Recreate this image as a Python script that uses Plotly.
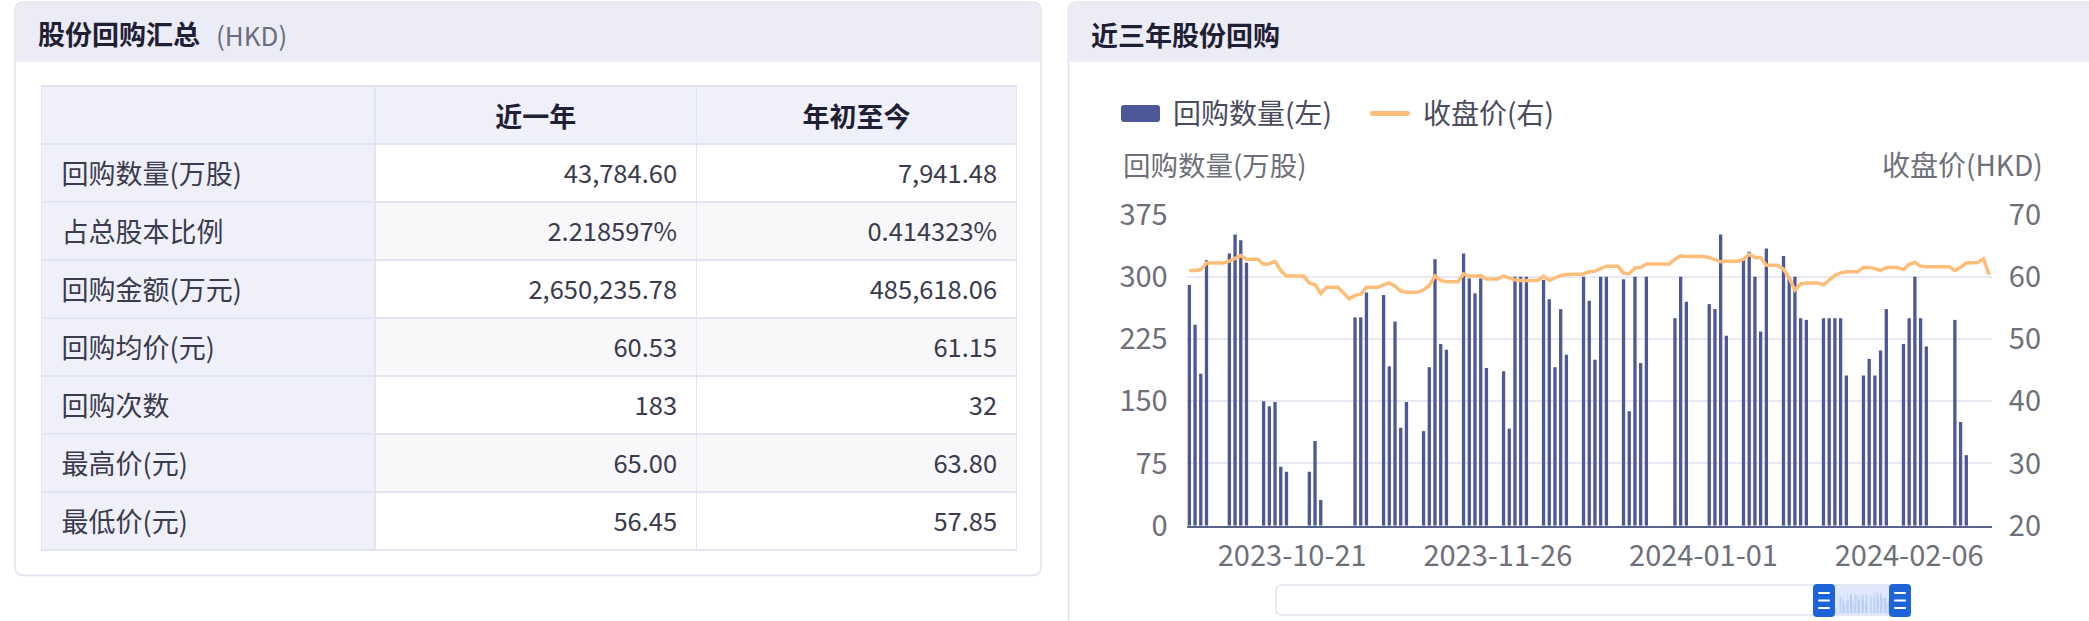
import plotly.graph_objects as go
import pandas as pd

W, H = 2089, 621
FONT = "Noto Sans CJK SC, Noto Sans, sans-serif"

# ---------------- table data ----------------
col_headers = ["", "近一年", "年初至今"]
row_labels = ["回购数量(万股)", "占总股本比例", "回购金额(万元)", "回购均价(元)",
              "回购次数", "最高价(元)", "最低价(元)"]
recent_year = ["43,784.60", "2.218597%", "2,650,235.78", "60.53", "183", "65.00", "56.45"]
year_to_date = ["7,941.48", "0.414323%", "485,618.06", "61.15", "32", "63.80", "57.85"]

# ---------------- chart data ----------------
buyback_dates = [
    "2023-10-03", "2023-10-04", "2023-10-05", "2023-10-06",
    "2023-10-10", "2023-10-11", "2023-10-12", "2023-10-13",
    "2023-10-16", "2023-10-17", "2023-10-18", "2023-10-19", "2023-10-20",
    "2023-10-24", "2023-10-25", "2023-10-26",
    "2023-11-01", "2023-11-02", "2023-11-03",
    "2023-11-06", "2023-11-07", "2023-11-08", "2023-11-09", "2023-11-10",
    "2023-11-13", "2023-11-14", "2023-11-15", "2023-11-16", "2023-11-17",
    "2023-11-20", "2023-11-21", "2023-11-22", "2023-11-23", "2023-11-24",
    "2023-11-27", "2023-11-28", "2023-11-29", "2023-11-30", "2023-12-01",
    "2023-12-04", "2023-12-05", "2023-12-06", "2023-12-07", "2023-12-08",
    "2023-12-11", "2023-12-12", "2023-12-13", "2023-12-14", "2023-12-15",
    "2023-12-18", "2023-12-19", "2023-12-20", "2023-12-21", "2023-12-22",
    "2023-12-27", "2023-12-28", "2023-12-29",
    "2024-01-02", "2024-01-03", "2024-01-04", "2024-01-05",
    "2024-01-08", "2024-01-09", "2024-01-10", "2024-01-11", "2024-01-12",
    "2024-01-15", "2024-01-16", "2024-01-17", "2024-01-18", "2024-01-19",
    "2024-01-22", "2024-01-23", "2024-01-24", "2024-01-25", "2024-01-26",
    "2024-01-29", "2024-01-30", "2024-01-31", "2024-02-01", "2024-02-02",
    "2024-02-05", "2024-02-06", "2024-02-07", "2024-02-08", "2024-02-09",
    "2024-02-14", "2024-02-15", "2024-02-16",
]
buyback_qty = [
    290, 242, 183, 320,
    328, 351, 344, 317,
    150, 144, 149, 71, 65,
    65, 102, 31,
    251, 251, 281,
    278, 192, 246, 118, 149,
    114, 191, 321, 219, 212,
    328, 298, 280, 298, 190,
    186, 117, 300, 300, 300,
    296, 273, 191, 261, 206,
    300, 271, 200, 300, 300,
    297, 138, 300, 196, 300,
    250, 300, 270,
    267, 261, 351, 229,
    321, 330, 300, 234, 334,
    325, 300, 300, 250, 248,
    250, 250, 250, 250, 181,
    181, 201, 181, 211, 261,
    219, 250, 300, 250, 216,
    248, 125, 85,
]
price_start = "2023-10-03"
close_price = [
    61.0, 61.0, 61.15, 62.2, 62.2, 62.2, 62.2, 62.5, 63.0, 63.4,
    62.8, 62.8, 62.8, 62.0, 62.1, 62.45, 61.0, 60.1, 60.1, 60.1,
    60.1, 59.0, 58.7, 57.3, 58.3, 58.3, 58.3, 57.4, 56.45, 57.0,
    57.2, 58.3, 58.3, 58.3, 58.7, 59.0, 58.5, 57.7, 57.5, 57.5,
    57.5, 57.9, 58.6, 60.1, 59.4, 59.2, 59.2, 59.2, 60.45, 60.1,
    60.1, 60.2, 59.65, 59.65, 59.65, 60.1, 59.8, 59.5, 59.4, 59.4,
    59.4, 59.4, 60.1, 59.4, 59.8, 60.2, 60.35, 60.35, 60.35, 60.45,
    60.8, 60.9, 61.3, 61.7, 61.7, 61.7, 60.6, 60.5, 61.4, 61.5,
    62.05, 62.05, 62.05, 62.05, 62.05, 62.8, 63.35, 63.25, 63.25, 63.25,
    63.25, 63.1, 62.8, 62.4, 62.5, 62.5, 62.5, 62.8, 63.6, 63.1,
    63.1, 61.85, 61.85, 61.85, 61.2, 59.8, 57.85, 58.85, 59.0, 59.0,
    59.0, 58.7, 59.5, 60.2, 60.6, 60.8, 60.8, 60.8, 61.5, 61.5,
    61.3, 61.0, 61.5, 61.5, 61.5, 61.15, 62.0, 62.3, 61.7, 61.6,
    61.6, 61.6, 61.6, 61.6, 61.0, 61.5, 62.2, 62.2, 62.3, 62.9,
    60.3,
]
price_dates = pd.date_range(price_start, periods=len(close_price), freq="D")
x_tick_dates = ["2023-10-21", "2023-11-26", "2024-01-01", "2024-02-06"]
x_range = ["2023-10-02 12:00", "2024-02-20 12:00"]

BAR_COLOR = "#4d5896"
LINE_COLOR = "#ffbd7a"
AXIS_TEXT = "#6e7079"
CLEAR = "rgba(0,0,0,0)"


def px(x):
    return x / W


def py(y):
    return 1 - y / H


def rr_path(x0, y0, x1, y1, r, top_only=False):
    def p(x, y):
        return f"{px(x):.6f},{py(y):.6f}"
    s = f"M {p(x0 + r, y0)} L {p(x1 - r, y0)} Q {p(x1, y0)} {p(x1, y0 + r)} "
    if top_only:
        s += f"L {p(x1, y1)} L {p(x0, y1)} "
    else:
        s += f"L {p(x1, y1 - r)} Q {p(x1, y1)} {p(x1 - r, y1)} L {p(x0 + r, y1)} Q {p(x0, y1)} {p(x0, y1 - r)} "
    s += f"L {p(x0, y0 + r)} Q {p(x0, y0)} {p(x0 + r, y0)} Z"
    return s


shapes = []


def add_path(path, fill, line=None, lw=0, layer="below"):
    shapes.append(dict(type="path", path=path, xref="paper", yref="paper",
                       fillcolor=fill, line=dict(color=line or CLEAR, width=lw),
                       layer=layer))


HEADER_BG = "#ececf6"
CARD_LINE = "#e3e4f1"

# left card
add_path(rr_path(15, 2, 1041, 575.5, 9), "white", CARD_LINE, 1.5)
add_path(rr_path(15.8, 2.8, 1040.2, 61.7, 8, top_only=True), HEADER_BG)
# right card
add_path(rr_path(1068.5, 2, 2120, 660, 9), "white", CARD_LINE, 1.5)
add_path(rr_path(1069.3, 2.8, 2120, 61.7, 8, top_only=True), HEADER_BG)

# legend symbols
add_path(rr_path(1121, 105, 1160, 122, 3), BAR_COLOR)
add_path(rr_path(1370, 111, 1410, 116, 2.5), LINE_COLOR)

# data zoom slider
add_path(rr_path(1276, 585, 1905, 615, 6), "white", "#e1e4f0", 1.5)
add_path(f"M {px(1824)},{py(585.7)} L {px(1900)},{py(585.7)} L {px(1900)},{py(614.3)} L {px(1824)},{py(614.3)} Z",
         "rgba(140,175,240,0.28)")
for hc in (1824, 1900):
    add_path(rr_path(hc - 11, 584, hc + 11, 617, 4), "#1f63d9", layer="above")
    for ly in (593, 600.5, 608):
        add_path(rr_path(hc - 6, ly - 1.1, hc + 6, ly + 1.1, 1), "white", layer="above")

annotations = []


def add_text(x, y, text, size, color, xanchor="left"):
    annotations.append(dict(x=px(x), y=py(y), xref="paper", yref="paper", text=text,
                            showarrow=False, xanchor=xanchor, yanchor="middle",
                            font=dict(family=FONT, size=size, color=color)))


add_text(36, 33.5, "<b>股份回购汇总</b>", 27, "#1f2033")
add_text(214, 34, "(HKD)", 26, "#6b6d80")
add_text(1089, 34.5, "<b>近三年股份回购</b>", 27, "#1f2033")
add_text(1171, 111.5, "回购数量(左)", 28, "#4a4b5c")
add_text(1421, 111.5, "收盘价(右)", 28, "#4a4b5c")
add_text(1121, 164, "回购数量(万股)", 27.5, AXIS_TEXT)
add_text(2045, 164, "收盘价(HKD)", 28, AXIS_TEXT, xanchor="right")

fig = go.Figure()

# ---------------- table ----------------
NB = "\u00a0"
n = len(row_labels)
label_fill = "#f0f0fa"
data_fill = ["white" if i % 2 == 0 else "#f8f8fb" for i in range(n)]
TBL_X = [px(41.5), px(1017)]
COLW = [333.5, 321.5, 320]
ROW_H = 58
TBL_TOP = 86
# table body: fills and borders
fig.add_trace(go.Table(
    domain=dict(x=TBL_X, y=[py(TBL_TOP + (n + 1) * ROW_H + 4), py(TBL_TOP)]),
    columnwidth=COLW,
    header=dict(values=["", "", ""], fill_color=label_fill, height=ROW_H,
                line=dict(color=CARD_LINE, width=1.5)),
    cells=dict(values=[[""] * n, [""] * n, [""] * n],
               fill_color=[[label_fill] * n, data_fill, data_fill], height=ROW_H,
               line=dict(color=CARD_LINE, width=1.5)),
))
# header text (vertically centred in the header row above)
HEAD_SHIFT = 2
fig.add_trace(go.Table(
    domain=dict(x=TBL_X, y=[py(TBL_TOP + ROW_H + 6 + HEAD_SHIFT), py(TBL_TOP + HEAD_SHIFT)]),
    columnwidth=COLW,
    header=dict(values=[f"<b>{h}</b>" if h else "" for h in col_headers],
                fill_color=CLEAR, align="center", height=ROW_H,
                line=dict(color=CLEAR, width=0),
                font=dict(family=FONT, size=27, color="#1f2033")),
    cells=dict(values=[[], [], []], fill_color=CLEAR, line=dict(color=CLEAR, width=0)),
))
# body text (vertically centred in the rows above)
BODY_SHIFT = 12
fig.add_trace(go.Table(
    domain=dict(x=TBL_X, y=[py(TBL_TOP + BODY_SHIFT + (n + 1) * ROW_H + 6), py(TBL_TOP + BODY_SHIFT)]),
    columnwidth=COLW,
    header=dict(values=["", "", ""], fill_color=CLEAR, height=ROW_H,
                line=dict(color=CLEAR, width=0)),
    cells=dict(values=[[NB * 2 + v for v in row_labels],
                       [v + NB * 2 for v in recent_year],
                       [v + NB * 2 for v in year_to_date]],
               fill_color=CLEAR,
               align=["left", "right", "right"], height=ROW_H,
               line=dict(color=CLEAR, width=0),
               font=dict(family=FONT, size=[27, 25.5, 25.5], color="#3a3b4d")),
))

# ---------------- chart ----------------
fig.add_trace(go.Bar(x=buyback_dates, y=buyback_qty, marker=dict(color=BAR_COLOR, line=dict(width=0)),
                     name="回购数量(左)", xaxis="x", yaxis="y"))
fig.add_trace(go.Scatter(x=price_dates, y=close_price, mode="lines", name="收盘价(右)",
                         line=dict(color=LINE_COLOR, width=3.5), xaxis="x", yaxis="y2"))
# data-zoom shadow of the visible window
fig.add_trace(go.Bar(x=buyback_dates, y=buyback_qty, marker=dict(color="rgba(110,150,235,0.55)", line=dict(width=0)),
                     xaxis="x3", yaxis="y3", hoverinfo="skip"))

TICK_FONT = dict(family=FONT, size=29, color=AXIS_TEXT)
fig.update_layout(
    width=W, height=H, margin=dict(l=0, r=0, t=0, b=0, pad=0, autoexpand=False), autosize=False,
    paper_bgcolor="white", plot_bgcolor=CLEAR,
    showlegend=False, bargap=0.42,
    font=dict(family=FONT, color=AXIS_TEXT),
    shapes=shapes, annotations=annotations,
    xaxis=dict(domain=[px(1186.5), px(1992)], type="date", range=x_range, automargin=False,
               tickmode="array", tickvals=x_tick_dates, tickformat="%Y-%m-%d",
               showgrid=False, showline=True, linecolor="#58628f", linewidth=2,
               ticks="outside", ticklen=3, tickcolor=CLEAR,
               tickfont=TICK_FONT, anchor="y", fixedrange=True),
    yaxis=dict(domain=[py(525.7), py(214.5)], range=[0, 375], tickvals=[0, 75, 150, 225, 300, 375],
               automargin=False,
               showgrid=True, gridcolor="#e9e9f6", gridwidth=1.5, zeroline=False, showline=False,
               ticks="outside", ticklen=12, tickcolor=CLEAR,
               tickfont=TICK_FONT, anchor="x"),
    yaxis2=dict(domain=[py(525.7), py(214.5)], range=[20, 70], tickvals=[20, 30, 40, 50, 60, 70],
                automargin=False,
                overlaying="y", side="right", showgrid=False, zeroline=False, showline=False,
                ticks="outside", ticklen=10, tickcolor=CLEAR,
                tickfont=TICK_FONT, anchor="x"),
    xaxis3=dict(domain=[px(1824), px(1900)], type="date", range=x_range, visible=False,
                automargin=False, anchor="y3"),
    yaxis3=dict(domain=[py(613), py(590)], range=[0, 375], visible=False, automargin=False, anchor="x3"),
)

fig.write_html("out.html")
